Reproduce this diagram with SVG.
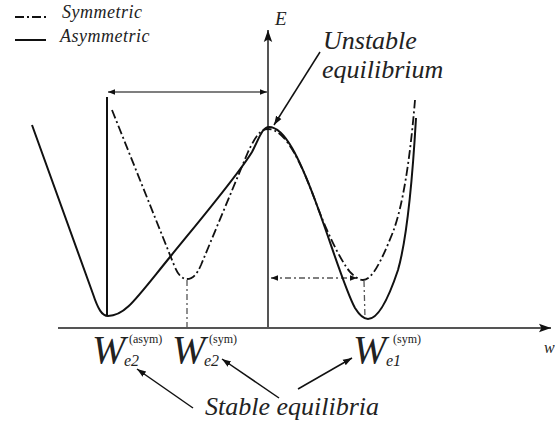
<svg xmlns="http://www.w3.org/2000/svg" width="555" height="423" viewBox="0 0 555 423">
<defs>
<marker id="ah" viewBox="0 0 10 10" refX="10" refY="5" markerWidth="7" markerHeight="7" orient="auto-start-reverse" markerUnits="userSpaceOnUse"><path d="M0,1 L10,5 L0,9 Z" fill="#111"/></marker>
<marker id="ahs" viewBox="0 0 10 10" refX="10" refY="5" markerWidth="9" markerHeight="9" orient="auto-start-reverse" markerUnits="userSpaceOnUse"><path d="M0,1.5 L10,5 L0,8.5 Z" fill="#111"/></marker>
<marker id="axa" viewBox="0 0 10 10" refX="10" refY="5" markerWidth="12" markerHeight="12" orient="auto" markerUnits="userSpaceOnUse"><path d="M0,1.5 L10,5 L0,8.5 L2,5 Z" fill="#111"/></marker>
</defs>
<style>
text{font-family:'Liberation Serif','Times New Roman',serif;fill:#222}
.t{font-style:italic}
.solid{fill:none;stroke:#111;stroke-width:2}
.sym{fill:none;stroke:#111;stroke-width:1.8;stroke-dasharray:9 3 2 3}
.axis{fill:none;stroke:#555;stroke-width:2}
.thin{fill:none;stroke:#555;stroke-width:1.3}
.dd{fill:none;stroke:#555;stroke-width:1.3;stroke-dasharray:6 3 2 3}
.ptr{fill:none;stroke:#111;stroke-width:1.5}
</style>
<g id="legend">
<line x1="15" y1="17" x2="48" y2="17" class="sym" stroke-dasharray="4 3 2 3"/>
<text x="62" y="18" class="t" font-size="18" letter-spacing="0.5">Symmetric</text>
<line x1="15" y1="40" x2="46" y2="40" class="solid" stroke="#444"/>
<text x="60" y="42" class="t" font-size="18" letter-spacing="0.5">Asymmetric</text>
</g>
<g id="axes">
<line x1="58" y1="328" x2="551" y2="328" class="axis" marker-end="url(#axa)"/>
<line x1="268" y1="328" x2="268" y2="30" class="axis" marker-end="url(#axa)"/>
<text x="275" y="25" class="t" font-size="19">E</text>
<text x="544" y="353" class="t" font-size="16">w</text>
</g>
<g id="connectors">
<line x1="107" y1="316" x2="107" y2="97" class="solid" stroke-width="1.8"/>
<line x1="108" y1="92" x2="267" y2="92" class="thin" marker-start="url(#ah)" marker-end="url(#ah)"/>
<line x1="271" y1="278" x2="357" y2="278" class="dd" marker-start="url(#ah)" marker-end="url(#ah)"/>
<line x1="187" y1="280" x2="187" y2="327" class="dd" stroke="#333"/>
<line x1="364" y1="281" x2="365" y2="318" class="dd" stroke="#333"/>
<line x1="320" y1="52" x2="274" y2="125" class="ptr" marker-end="url(#ahs)"/>
<line x1="193" y1="408" x2="137" y2="369" class="ptr" marker-end="url(#ahs)"/>
<line x1="279" y1="398" x2="222" y2="359" class="ptr" marker-end="url(#ahs)"/>
<line x1="298" y1="389" x2="352" y2="358" class="ptr" marker-end="url(#ahs)"/>
</g>
<g id="asymmetric">
<path class="solid" d="M32,125 L93,294 C98,309 102,316 108,316 C125,316 135,300 170,257 C205,214 238,175 252,152 C259,139 262,127 269,127 C285,127 300,160 315,200 C330,240 345,290 355,308 C360,316 364,319 368,319 C378,319 388,300 398,270 C408,235 413,170 416,118"/>
</g>
<g id="symmetric">
<path class="sym" d="M112,110 L174,265 C178,275 182,279 187,279 C193,279 197,274 201,265 L248,152 C256,135 261,129 268,129 C285,129 300,160 315,200 C325,228 340,260 350,272 C355,277 359,280 363,280 C372,280 381,262 393,232 C403,205 410,160 415,100"/>
</g>
<g id="labels">
<text x="323" y="49" class="t" font-size="26">Unstable</text>
<text x="322" y="78" class="t" font-size="26">equilibrium</text>
<text x="92" y="363" class="t" font-size="40">W</text>
<text x="124" y="366" class="t" font-size="16">e2</text>
<text x="129" y="343" font-size="12">(asym)</text>
<text x="172" y="363" class="t" font-size="40">W</text>
<text x="204" y="366" class="t" font-size="16">e2</text>
<text x="209" y="343" font-size="12">(sym)</text>
<text x="353" y="363" class="t" font-size="40">W</text>
<text x="386" y="366" class="t" font-size="16">e1</text>
<text x="393" y="343" font-size="12">(sym)</text>
<text x="205" y="415" class="t" font-size="26">Stable equilibria</text>
</g>
</svg>
